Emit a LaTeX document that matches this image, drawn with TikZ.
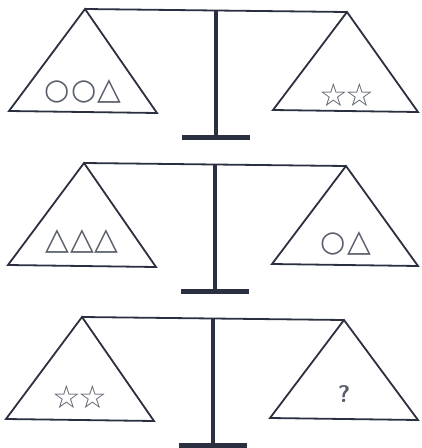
\documentclass[tikz,border=0pt]{standalone}
\usepackage{fontspec}
\newfontfamily\symfont{DejaVu Sans}
\usetikzlibrary{positioning}
\usetikzlibrary{calc}

\definecolor{inkline}{HTML}{2B3040}
\definecolor{inkload}{HTML}{5A5E6A}

% the weights on the pans
\newcommand{\shpring}{{\fontsize{29}{29}\selectfont ○}}
\newcommand{\shptri}{{\fontsize{31}{31}\selectfont △}}
\newcommand{\shpstar}{{\fontsize{32}{32}\selectfont ☆}}
\newcommand{\shpask}{{\sffamily\bfseries\fontsize{24}{24}\selectfont ?}}
\newcommand{\shpgap}{\hspace{1pt}}

\tikzset{
    pan/.style={draw=inkline, line width=1.8pt, line join=miter},
    beam/.style={draw=inkline, line width=1.8pt},
    pole/.style={draw=inkline, line width=3.2pt},
    foot/.style={draw=inkline, line width=4.5pt},
    load/.style={text=inkload, font=\symfont, inner sep=0pt},
}

\begin{document}
\begin{tikzpicture}[x=1pt, y=-1pt]
    \useasboundingbox (0,0) rectangle (422,448);

    \foreach \r/\y/\dx/\ly/\ry/\lt/\rt in {
        1/9/0/82/83/{\shpring\shpgap\shpring\shpgap\shptri}/{\shpstar\hspace{-3pt}\shpstar},
        2/163/-1/78/77/{\shptri\shpgap\shptri\shpgap\shptri}/{\shpring\shpgap\shptri},
        3/317/-3/80/74/{\shpstar\hspace{-3pt}\shpstar}/{\shpask}}{

        % the two hanging pans
        \coordinate (apexL\r) at (85+\dx,\y);
        \coordinate (apexR\r) at (347+\dx,\y+3);
        \coordinate (baseLa\r) at (9+\dx,\y+102);
        \coordinate (baseLb\r) at (157+\dx,\y+104);
        \coordinate (baseRa\r) at (273+\dx,\y+101);
        \coordinate (baseRb\r) at (418,\y+103);

        \draw[pan] (apexL\r) -- (baseLa\r) -- (baseLb\r) -- cycle;
        \draw[pan] (apexR\r) -- (baseRa\r) -- (baseRb\r) -- cycle;
        \draw[beam] (apexL\r) -- (apexR\r);

        % stand
        \coordinate (top\r) at ($(apexL\r)!0.5!(apexR\r)$);
        \coordinate (bot\r) at ($(top\r)+(0,127)$);
        \coordinate (footL\r) at ($(bot\r)+(-34,0)$);
        \coordinate (footR\r) at ($(bot\r)+(34,0)$);
        \draw[pole] (top\r) -- (bot\r);
        \draw[foot] (footL\r) -- (footR\r);

        % loads
        \node[load] (loadL\r) at ($(apexL\r)+(-2,\ly)$) {\lt};
        \node[load] (loadR\r) at ($(apexR\r)+(0,\ry)$) {\rt};
    }
\end{tikzpicture}
\end{document}
